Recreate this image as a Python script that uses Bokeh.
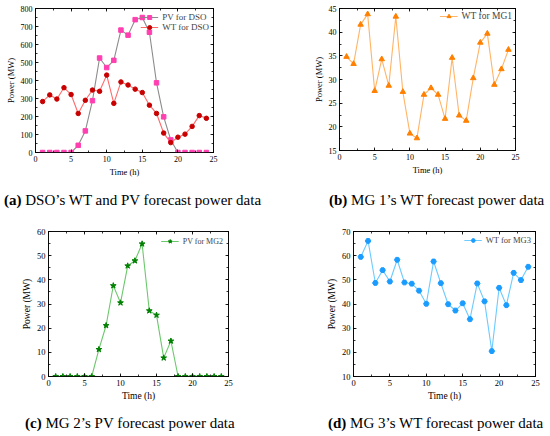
from bokeh.plotting import figure
from bokeh.models import LinearAxis, Range1d, Legend, LegendItem, SingleIntervalTicker, Div
from bokeh.layouts import column, row
from bokeh.embed import file_html
from bokeh.resources import INLINE

# ---------------- data ----------------
hours = list(range(1, 25))
pv_dso = [0, 0, 0, 0, 0, 40, 120, 288, 525, 472, 512, 680, 652, 738, 750, 668, 387, 198, 70, 0, 0, 0, 0, 0]
wt_dso = [283, 320, 297, 360, 322, 217, 290, 347, 340, 430, 273, 392, 375, 352, 333, 263, 217, 108, 55, 85, 102, 145, 205, 190]
wt_mg1 = [34.8, 33.3, 41.6, 43.8, 27.6, 34.3, 28.7, 43.3, 27.4, 18.6, 17.6, 26.8, 28.2, 26.8, 21.7, 34.6, 22.4, 21.3, 30.3, 37.8, 39.7, 28.9, 32.2, 36.3]
pv_mg2 = [0, 0, 0, 0, 0, 0, 11.2, 21.1, 37.6, 30.5, 45.8, 47.9, 54.9, 27.2, 25.4, 7.7, 14.7, 0, 0, 0, 0, 0, 0, 0]
wt_mg3 = [59.5, 66.1, 48.7, 54.0, 49.3, 58.3, 48.9, 48.4, 45.5, 40.1, 57.6, 48.6, 39.9, 37.3, 40.3, 33.7, 48.5, 41.1, 20.5, 46.7, 39.5, 52.9, 49.9, 55.4]

captions = [
    ("(a)", " DSO\u2019s WT and PV forecast power data"),
    ("(b)", " MG 1\u2019s WT forecast power data"),
    ("(c)", " MG 2\u2019s PV forecast power data"),
    ("(d)", " MG 3\u2019s WT forecast power data"),
]

FONT = "Liberation Serif"


def style_axis(ax, tick_fs, label_fs, hidden=False):
    ax.axis_line_color = "black"
    ax.axis_line_width = 0.8
    ax.major_tick_in = 3
    ax.major_tick_out = 0
    ax.minor_tick_in = 2
    ax.minor_tick_out = 0
    ax.major_tick_line_color = "black"
    ax.minor_tick_line_color = "black"
    ax.major_tick_line_width = 0.8
    ax.minor_tick_line_width = 0.8
    ax.major_label_text_font = FONT
    ax.axis_label_text_font = FONT
    ax.axis_label_text_font_style = "normal"
    ax.axis_label_text_color = "black"
    ax.axis_label_text_font_size = label_fs
    ax.axis_label_standoff = 2
    ax.major_label_standoff = 3
    if hidden:
        ax.major_label_text_color = None
        ax.major_label_text_font_size = "1px"
        ax.major_label_standoff = 0
        ax.axis_label = None
    else:
        ax.major_label_text_color = "black"
        ax.major_label_text_font_size = tick_fs


def make_panel(frame, borders, ylim, ystep, series, tick_fs, label_fs, leg_fs, leg_margin):
    fw, fh = frame
    left, right, top, bottom = borders
    p = figure(frame_width=fw, frame_height=fh, output_backend="svg", toolbar_location=None,
               x_range=Range1d(0, 25), y_range=Range1d(*ylim),
               min_border_left=left, min_border_right=right,
               min_border_top=top, min_border_bottom=bottom,
               x_axis_label="Time (h)", y_axis_label="Power (MW)")
    p.grid.visible = False
    p.outline_line_color = "black"
    p.outline_line_width = 0.8
    p.xaxis.ticker = SingleIntervalTicker(interval=5, num_minor_ticks=2)
    p.yaxis.ticker = SingleIntervalTicker(interval=ystep, num_minor_ticks=2)
    for ax in p.xaxis + p.yaxis:
        style_axis(ax, tick_fs, label_fs)
    top_ax = LinearAxis(ticker=SingleIntervalTicker(interval=5, num_minor_ticks=2))
    right_ax = LinearAxis(ticker=SingleIntervalTicker(interval=ystep, num_minor_ticks=2))
    style_axis(top_ax, tick_fs, label_fs, hidden=True)
    style_axis(right_ax, tick_fs, label_fs, hidden=True)
    p.add_layout(top_ax, "above")
    p.add_layout(right_ax, "right")

    items = []
    for (name, ys, mcol, lcol, marker, msize) in series:
        lr = p.line(hours, ys, line_color=lcol, line_width=1.1)
        sr = p.scatter(hours, ys, marker=marker, size=msize, fill_color=mcol, line_color=mcol)
        items.append(LegendItem(label=name, renderers=[lr, sr]))
    leg = Legend(items=items, location="top_right", border_line_alpha=0,
                 background_fill_alpha=0, label_text_font=FONT,
                 label_text_font_size=leg_fs, glyph_width=18, glyph_height=10,
                 label_height=10, spacing=0, padding=0, margin=leg_margin, label_standoff=4)
    p.add_layout(leg)
    return p


def caption(cap, width, height, pad_left, pad_top):
    bold, rest = cap
    html = ('<div style="padding-left:%dpx;padding-top:%dpx;font-family:\'Liberation Serif\';'
            'font-size:15px;line-height:18px;white-space:nowrap;color:black;">'
            '<b>%s</b>%s</div>') % (pad_left, pad_top, bold, rest)
    return Div(text=html, width=width, height=height, margin=0)


pa = make_panel((178, 144), (35, 62, 8, 34), (0, 800), 100,
                [("PV for DSO", pv_dso, "#FF3FB0", "#8C8C8C", "square", 4.5),
                 ("WT for DSO", wt_dso, "#C80000", "#FF6A6A", "circle", 4.5)],
                "8px", "8.5px", "9px", 4)
pb = make_panel((176, 142), (64, 35, 8, 36), (15, 45), 5,
                [("WT for MG1", wt_mg1, "#FF8000", "#FFB466", "triangle", 5.5)],
                "8px", "8.5px", "9.5px", 3)
pc = make_panel((180, 145), (48, 47, 13, 32), (0, 60), 10,
                [("PV for MG2", pv_mg2, "#008000", "#6CC86C", "star", 6)],
                "8.5px", "9.5px", "8px", 5)
pd = make_panel((182, 145), (78, 15, 13, 32), (10, 70), 10,
                [("WT for MG3", wt_mg3, "#1A9CFF", "#6CCBFF", "hex", 5.5)],
                "8.5px", "9.5px", "8.5px", 4)

ca = caption(captions[0], 275, 32, 4, 5)
cb = caption(captions[1], 275, 32, 54, 5)
cc = caption(captions[2], 275, 28, 25, 6)
cd = caption(captions[3], 275, 28, 53, 6)

layout = column(row(pa, pb), row(ca, cb), row(pc, pd), row(cc, cd))
open("out.html", "w").write(file_html(layout, INLINE))
